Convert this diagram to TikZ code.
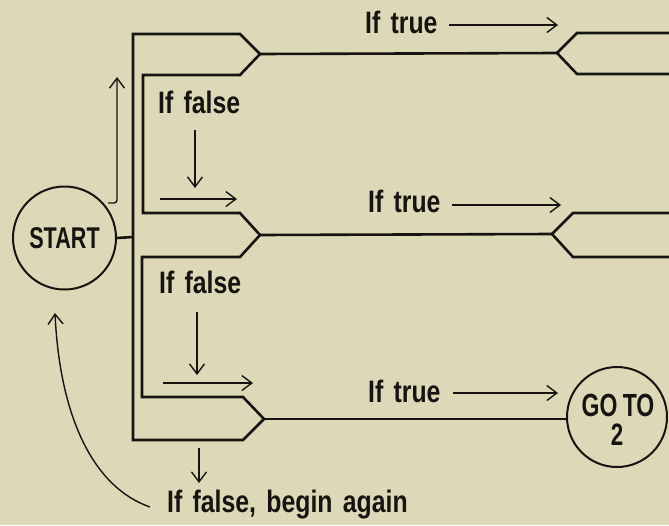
\documentclass[tikz,border=0pt]{standalone}
\usepackage{fontspec}
\usetikzlibrary{arrows.meta}
% condensed bold sans for the labels
\newfontfamily\lblfont{Liberation Sans}[FakeStretch=0.8]
\newfontfamily\capfont{Liberation Sans}[FakeStretch=0.72]
\definecolor{paper}{RGB}{221,217,184}
\definecolor{ink}{RGB}{22,20,16}
\tikzset{
  bus/.style={draw=ink, line width=2.6pt, line join=miter},
  ring/.style={circle, draw=ink, line width=2pt, minimum size=#1, inner sep=0pt},
  flow/.style={draw=ink, line width=1.4pt, -{Straight Barb[length=10pt,width=15pt,line width=1.4pt]}},
  lbl/.style={inner sep=0pt, anchor=base west, text=ink, font=\lblfont\bfseries\fontsize{31}{34}\selectfont},
  ringtext/.style={text=ink, align=center, inner sep=0pt, font=\capfont\bfseries\fontsize{#1}{28}\selectfont},
  ringtext/.default=30
}
\begin{document}
\begin{tikzpicture}[x=1pt, y=-1pt]
  \fill[paper] (0,0) rectangle (669,525);
  \useasboundingbox (0,0) rectangle (669,525);

  % terminal circles
  \node[ring=103pt] (start) at (64.5,238) {};
  \node[ringtext] (starttext) at (start.center) {START};
  \node[ring=100pt] (goto) at (617,417) {};
  \node[ringtext=32, anchor=base] (gototext) at (618,416) {GO\,TO};
  \node[ringtext=31, anchor=base] (gotonum) at (617,445) {2};

  % junction points of the left bus
  \coordinate (m1) at (260,54);
  \coordinate (m2) at (260,235);
  \coordinate (m3) at (264,419);
  \coordinate (busL) at (133,237);

  % outer bus: top of branch 1 down to bottom of branch 3
  \draw[bus] (m1) -- (240,34) -- (133,34) -- (133,440) -- (243,440) -- (m3);
  % inner loop between branch 1 and branch 2
  \draw[bus] (m1) -- (240,75) -- (143,75) -- (143,213) -- (240,213) -- (m2);
  % inner loop between branch 2 and branch 3
  \draw[bus] (m2) -- (240,257) -- (142,257) -- (142,397) -- (243,397) -- (m3);
  % start joins the bus
  \draw[bus] (start.east) -- (busL);

  % branch 1 and its split at the right
  \coordinate (s1) at (557,53);
  \draw[bus] (m1) -- (s1);
  \draw[bus] (669,33) -- (577,33) -- (s1) -- (577,74) -- (669,74);
  % branch 2 and its split
  \coordinate (s2) at (552,234);
  \draw[bus] (m2) -- (s2);
  \draw[bus] (669,213) -- (573,213) -- (s2) -- (573,257) -- (669,257);
  % branch 3 to GO TO 2
  \draw[bus] (m3) -- (goto.west |- m3);

  % labels
  \node[lbl] (t1) at (365,33) {If\,\,true};
  \node[lbl] (t2) at (368,212) {If\,\,true};
  \node[lbl] (t3) at (368,402) {If\,\,true};
  \node[lbl] (f1) at (158,113) {If\,\,false};
  \node[lbl] (f2) at (159,293) {If\,\,false};
  \node[lbl] (f3) at (167,512) {If\,\,false,\,\,begin\,\,again};

  % "if true" arrows
  \coordinate (a1s) at (449,25);  \coordinate (a1e) at (558,25);
  \coordinate (a2s) at (452,205); \coordinate (a2e) at (561,205);
  \coordinate (a3s) at (453,393); \coordinate (a3e) at (558,393);
  \draw[flow] (a1s) -- (a1e);
  \draw[flow] (a2s) -- (a2e);
  \draw[flow] (a3s) -- (a3e);

  % "if false" arrows
  \coordinate (d1s) at (195,130); \coordinate (d1e) at (195,188);
  \coordinate (r1s) at (160,199); \coordinate (r1e) at (237,199);
  \coordinate (d2s) at (197,312); \coordinate (d2e) at (197,375);
  \coordinate (r2s) at (163,383); \coordinate (r2e) at (253,383);
  \coordinate (d3s) at (199,448); \coordinate (d3e) at (199,483);
  \draw[flow] (d1s) -- (d1e);
  \draw[flow] (r1s) -- (r1e);
  \draw[flow] (d2s) -- (d2e);
  \draw[flow] (r2s) -- (r2e);
  \draw[flow] (d3s) -- (d3e);

  % from START up to the first test
  \coordinate (u1) at (108,203);
  \coordinate (u2) at (117,77);
  \draw[flow, rounded corners=3pt] (u1) -- (u1 -| u2) -- (u2);

  % begin again: curved arrow back to START
  \coordinate (c1) at (150,507);
  \coordinate (c2) at (55,313);
  \draw[flow] (c1) .. controls (95,488) and (60,420) .. (c2);
\end{tikzpicture}
\end{document}
